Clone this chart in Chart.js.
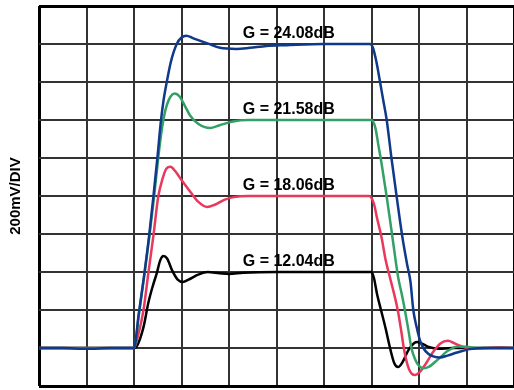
<!DOCTYPE html>
<html>
<head>
<meta charset="utf-8">
<script src="https://cdn.jsdelivr.net/npm/chart.js@4"></script>
<style>
  html, body { margin: 0; padding: 0; background: #fff; }
  #wrap { width: 514px; height: 390px; }
</style>
</head>
<body>
<div id="wrap"><canvas id="scope"></canvas></div>
<script>
// step response, x and y in divisions (200mV/DIV)
const blueX = [0, 0.5, 1.0, 1.5, 2.0, 2.1, 2.21, 2.32, 2.41, 2.5, 2.56, 2.62, 2.69, 2.78, 2.9, 3.0, 3.1, 3.25, 3.56, 3.81, 4.16, 4.44, 4.79, 5.2, 6.0, 6.97,
  7.03, 7.1, 7.18, 7.25, 7.32, 7.42, 7.53, 7.65, 7.75, 7.82, 7.88, 7.95, 8.02, 8.09, 8.2, 8.3, 8.44, 8.6, 8.8, 9.07, 9.4, 10];
const blueY = [1.0, 1.0, 0.98, 1.0, 1.0, 1.9, 2.88, 3.97, 5.0, 6.1, 6.9, 7.5, 8.0, 8.55, 9.0, 9.17, 9.22, 9.15, 9.01, 8.9, 8.87, 8.9, 8.95, 8.97, 9.0, 9.0,
  8.9, 8.55, 8.0, 7.5, 7.0, 6.0, 4.98, 3.92, 3.2, 2.75, 2.0, 1.55, 1.2, 1.0, 0.84, 0.78, 0.75, 0.8, 0.88, 0.97, 1.0, 1.0];

const redX = [0, 1.0, 2.0, 2.1, 2.2, 2.3, 2.41, 2.51, 2.6, 2.68, 2.77, 2.87, 3.0, 3.18, 3.35, 3.54, 3.7, 3.9, 4.1, 4.4, 5.5, 6.95,
  7.05, 7.12, 7.21, 7.3, 7.4, 7.5, 7.56, 7.62, 7.68, 7.76, 7.85, 7.92, 8.0, 8.15, 8.3, 8.45, 8.61, 8.75, 8.9, 9.1, 9.4, 9.7, 10];
const redY = [1.0, 1.0, 1.0, 1.4, 2.0, 2.95, 3.97, 4.98, 5.45, 5.72, 5.77, 5.65, 5.42, 5.12, 4.85, 4.71, 4.77, 4.9, 4.97, 5.0, 5.0, 5.0,
  4.8, 4.4, 3.92, 3.3, 2.8, 2.3, 1.95, 1.5, 1.0, 0.55, 0.32, 0.29, 0.35, 0.6, 0.9, 1.12, 1.19, 1.12, 1.04, 0.98, 1.0, 1.02, 1.0];

const greenX = [0, 1.0, 2.0, 2.1, 2.21, 2.32, 2.42, 2.51, 2.58, 2.65, 2.74, 2.86, 2.96, 3.06, 3.18, 3.35, 3.6, 3.8, 4.08, 4.4, 5.5, 7.0,
  7.08, 7.15, 7.21, 7.32, 7.44, 7.56, 7.64, 7.71, 7.78, 7.84, 7.92, 8.0, 8.1, 8.2, 8.4, 8.6, 8.82, 9.0, 9.3, 10];
const greenY = [1.0, 1.0, 1.0, 1.85, 2.85, 3.9, 4.95, 6.0, 6.7, 7.2, 7.55, 7.7, 7.62, 7.4, 7.12, 6.9, 6.79, 6.86, 6.96, 7.0, 7.0, 7.0,
  6.8, 6.3, 5.87, 4.98, 3.92, 2.87, 2.4, 1.95, 1.45, 1.0, 0.7, 0.53, 0.47, 0.5, 0.7, 0.92, 1.04, 1.03, 1.0, 1.0];

const blackX = [0, 1.0, 2.0, 2.05, 2.2, 2.3, 2.4, 2.48, 2.55, 2.62, 2.7, 2.8, 2.92, 3.03, 3.15, 3.35, 3.55, 3.8, 4.0, 4.3, 5.0, 6.0, 7.0,
  7.05, 7.12, 7.2, 7.3, 7.39, 7.48, 7.56, 7.65, 7.78, 7.9, 7.96, 8.05, 8.2, 8.4, 8.7, 10];
const blackY = [1.0, 1.0, 1.0, 1.03, 1.55, 2.18, 2.65, 2.97, 3.3, 3.42, 3.35, 3.05, 2.8, 2.74, 2.8, 2.93, 3.0, 2.97, 2.95, 2.98, 3.0, 3.0, 3.0,
  2.85, 2.4, 2.0, 1.5, 1.0, 0.6, 0.5, 0.62, 0.95, 1.13, 1.16, 1.12, 1.03, 0.98, 1.0, 1.0];

const gainLabels = ["G = 24.08dB", "G = 21.58dB", "G = 18.06dB", "G = 12.04dB"];
const gainLevels = [9, 7, 5, 3];
const yTitle = "200mV/DIV";

const colors = ["#0f398a", "#33a066", "#e8385c", "#000000"];

function toPoints(xs, ys) {
  return xs.map((x, i) => ({ x: x, y: ys[i] }));
}

const series = [
  toPoints(blueX, blueY),
  toPoints(greenX, greenY),
  toPoints(redX, redY),
  toPoints(blackX, blackY),
];

const FONT = "'Liberation Sans', Arial, sans-serif";

// gain labels and the rotated axis title
const textPlugin = {
  id: "scopeText",
  afterDatasetsDraw(chart) {
    const ctx = chart.ctx;
    const xs = chart.scales.x;
    const ys = chart.scales.y;
    ctx.save();
    ctx.fillStyle = "#000";
    ctx.font = "bold 16px " + FONT;
    ctx.textBaseline = "middle";
    ctx.textAlign = "left";
    gainLabels.forEach((txt, i) => {
      ctx.fillText(txt, xs.getPixelForValue(4.29), ys.getPixelForValue(gainLevels[i] + 0.28));
    });
    ctx.font = "bold 15px " + FONT;
    ctx.translate(16, (chart.chartArea.top + chart.chartArea.bottom) / 2);
    ctx.rotate(-Math.PI / 2);
    ctx.textAlign = "center";
    ctx.fillText(yTitle, 0, 0);
    ctx.restore();
  },
};

function gridColor(c) {
  const v = c.tick ? c.tick.value : null;
  return v === 0 || v === 10 ? "#000" : "#333";
}
function gridWidth(c) {
  const v = c.tick ? c.tick.value : null;
  return v === 0 || v === 10 ? 3 : 2;
}

new Chart(document.getElementById("scope"), {
  type: "line",
  data: {
    datasets: series.map((pts, i) => ({
      data: pts,
      borderColor: colors[i],
      borderWidth: 2.5,
      pointRadius: 0,
      cubicInterpolationMode: "monotone",
      fill: false,
    })),
  },
  options: {
    responsive: true,
    maintainAspectRatio: false,
    animation: false,
    layout: { padding: { left: 39, top: 6, right: 0, bottom: 4 } },
    plugins: { legend: { display: false }, tooltip: { enabled: false } },
    scales: {
      x: {
        type: "linear",
        min: 0,
        max: 10,
        ticks: { display: false, stepSize: 1 },
        grid: { color: gridColor, lineWidth: gridWidth, drawTicks: false },
        border: { display: false },
      },
      y: {
        type: "linear",
        min: 0,
        max: 10,
        ticks: { display: false, stepSize: 1 },
        grid: { color: gridColor, lineWidth: gridWidth, drawTicks: false },
        border: { display: false },
      },
    },
  },
  plugins: [textPlugin],
});
</script>
</body>
</html>
